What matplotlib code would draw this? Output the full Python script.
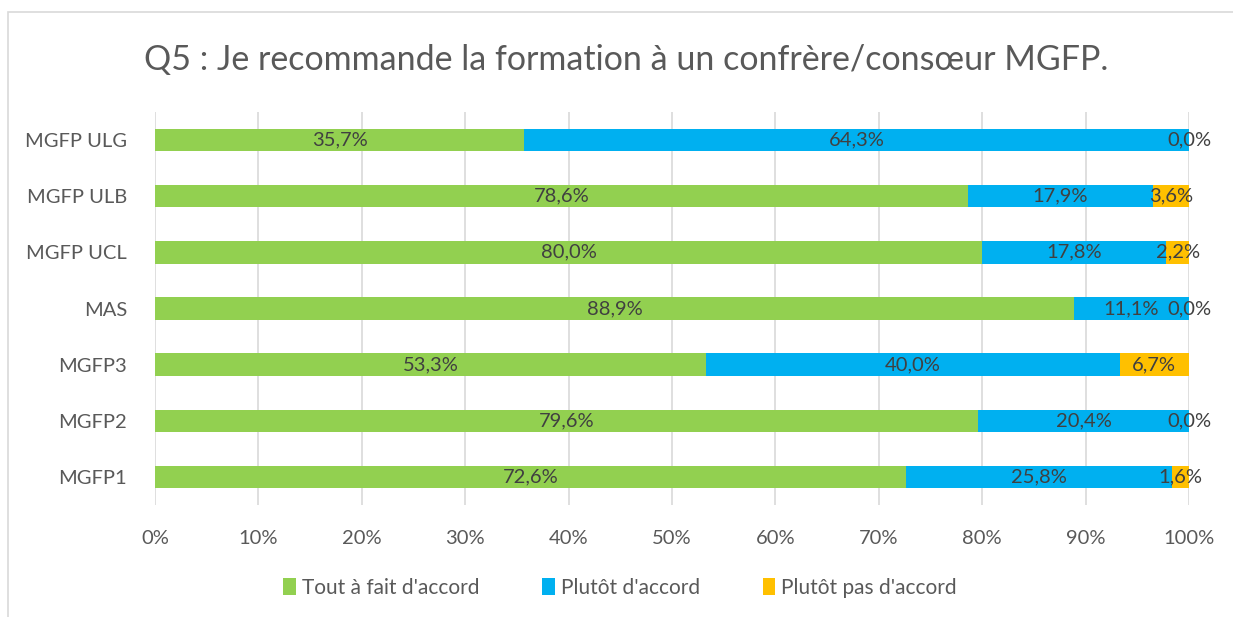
import matplotlib.pyplot as plt
from matplotlib.patches import Rectangle

plt.rcParams['font.family'] = ['Lato', 'DejaVu Sans']

categories = ["MGFP1", "MGFP2", "MGFP3", "MAS", "MGFP UCL", "MGFP ULB", "MGFP ULG"]
tout_a_fait = [72.6, 79.6, 53.3, 88.9, 80.0, 78.6, 35.7]
plutot = [25.8, 20.4, 40.0, 11.1, 17.8, 17.9, 64.3]
plutot_pas = [1.6, 0.0, 6.7, 0.0, 2.2, 3.6, 0.0]

series = [("Tout à fait d'accord", tout_a_fait, "#92D050"),
          ("Plutôt d'accord", plutot, "#00B0F0"),
          ("Plutôt pas d'accord", plutot_pas, "#FFC000")]

fig = plt.figure(figsize=(12.33, 6.17), dpi=100)
ax = fig.add_axes([0.1257, 0.1815, 0.8386, 0.637])

fig.patches.append(Rectangle((0.0065, -0.01), 1.0, 0.9905, transform=fig.transFigure,
                             fill=False, edgecolor="#D9D9D9", linewidth=1.2))

y = list(range(len(categories)))
left = [0.0] * len(categories)
for name, vals, col in series:
    ax.barh(y, vals, left=left, height=0.4, color=col, label=name, zorder=2)
    for i, v in enumerate(vals):
        ax.text(left[i] + v / 2, i, f"{v:.1f}".replace(".", ",") + "%",
                ha="center", va="center", fontsize=14.5, color="#404040", zorder=3)
    left = [a + b for a, b in zip(left, vals)]

ax.set_xlim(0, 100)
ax.set_ylim(-0.5, 6.5)
ax.set_xticks(range(0, 101, 10))
ax.set_xticklabels([f"{t}%" for t in range(0, 101, 10)])
ax.set_yticks(y)
ax.set_yticklabels(categories)
ax.tick_params(axis="both", length=0, labelsize=14.5, labelcolor="#595959")
ax.tick_params(axis="x", pad=18)
ax.tick_params(axis="y", pad=20)
ax.grid(axis="x", color="#D9D9D9", linewidth=1.2, zorder=0)
ax.set_axisbelow(True)
for s in ax.spines.values():
    s.set_visible(False)

fig.text(0.508, 0.903, "Q5 : Je recommande la formation à un confrère/consœur MGFP.",
         ha="center", va="center", fontsize=24.5, color="#595959")

fig.legend(loc="center", bbox_to_anchor=(0.503, 0.047), ncol=3, frameon=False,
           fontsize=15, labelcolor="#595959", handlelength=0.6, handleheight=0.9,
           handletextpad=0.3, columnspacing=3.0)

fig.savefig("out.png", dpi=100)
